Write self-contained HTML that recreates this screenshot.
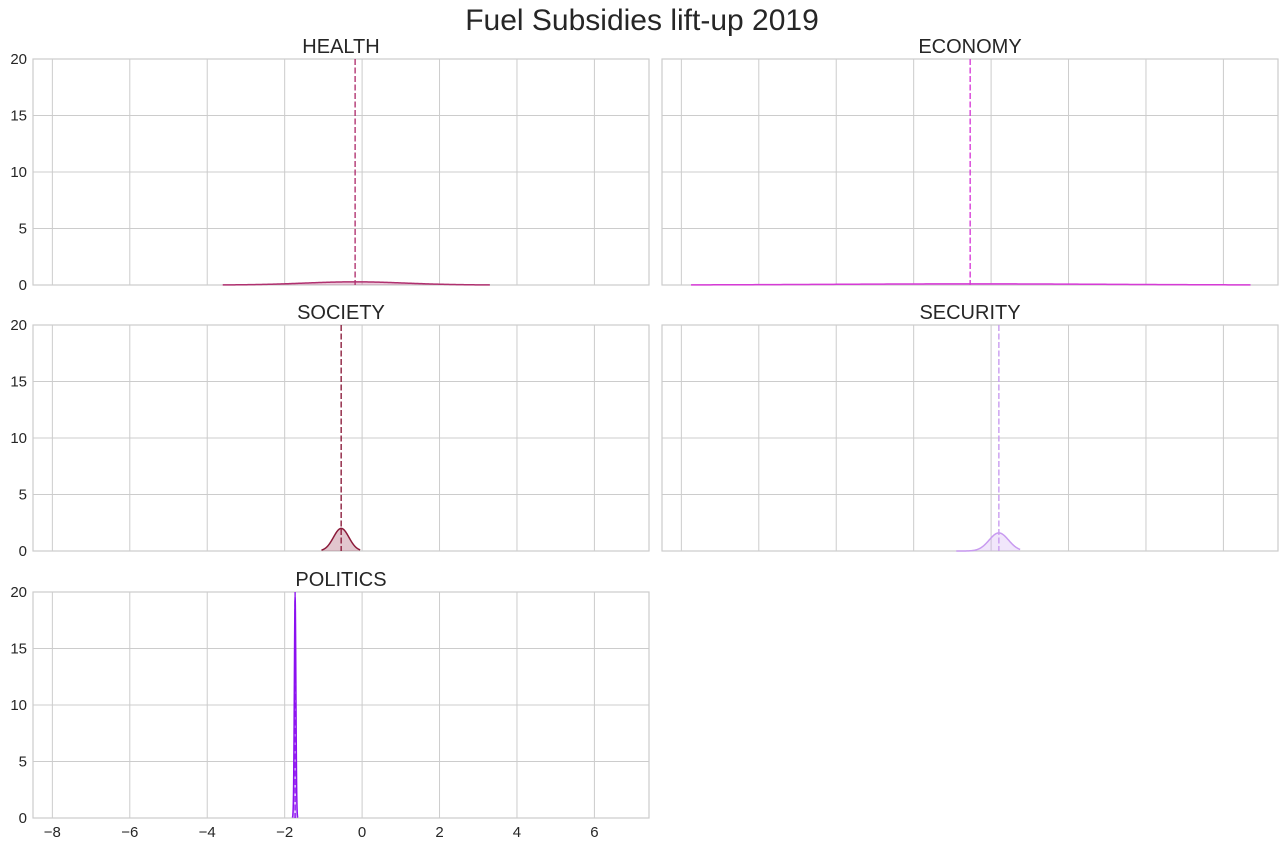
<!DOCTYPE html>
<html><head><meta charset="utf-8">
<style>
body{margin:0;background:#fff;font-family:"Liberation Sans",sans-serif;}
svg text{font-family:"Liberation Sans",sans-serif;fill:#262626;}
</style></head>
<body>
<svg id="chart" width="1284" height="848">
<text x="642" y="30" font-size="30" text-anchor="middle">Fuel Subsidies lift-up 2019</text>
</svg>
<script>
const panelNames = ["HEALTH","ECONOMY","SOCIETY","SECURITY","POLITICS"];
const means = [-0.18,-0.54,-0.54,0.2,-1.73];
const sds = [1.3,3.5,0.2,0.25,0.02];
const peaks = [0.28,0.1,2.0,1.6,19.5];
const lo = [-3.6,-7.75,-1.05,-0.9,-1.8];
const hi = [3.3,6.7,-0.05,0.75,-1.66];
const colors = ["#b0306f","#d63ad6","#8b1a3a","#c89af0","#8b10f0"];
const xTicks = [-8,-6,-4,-2,0,2,4,6];
const yTicks = [0,5,10,15,20];

const NS="http://www.w3.org/2000/svg";
const svg=document.getElementById('chart');
const panels=[[33,59],[662,59],[33,325],[662,325],[33,592]];
const W=616,H=226,xMin=-8.5,xMax=7.41,yMax=20;
function mk(t,a,p){const e=document.createElementNS(NS,t);for(const k in a)e.setAttribute(k,a[k]);(p||svg).appendChild(e);return e;}
panelNames.forEach((name,i)=>{
  const [px,py]=panels[i];
  const sx=v=>px+(v-xMin)/(xMax-xMin)*W;
  const sy=v=>py+H-v/yMax*H;
  const g=mk('g',{});
  
  
  xTicks.forEach(t=>{const l=mk('line',{x1:sx(t),x2:sx(t),y1:py,y2:py+H,stroke:'#cccccc','stroke-width':1},g);
    });
  yTicks.forEach(t=>{const l=mk('line',{x1:px,x2:px+W,y1:sy(t),y2:sy(t),stroke:'#cccccc','stroke-width':1},g);
    
    if(i%2===0){const tx=mk('text',{x:px-6,y:sy(t)+5,'font-size':15,'text-anchor':'end'},g);tx.textContent=t;
      }});
  const fr=mk('rect',{x:px,y:py,width:W,height:H,fill:'none',stroke:'#cccccc','stroke-width':1.2},g);
  
  const tt=mk('text',{x:px+W/2,y:py-6,'font-size':20,'text-anchor':'middle'},g);tt.textContent=name;
  
  // density
  let pts=[];const n=200;
  for(let k=0;k<=n;k++){const x=lo[i]+(hi[i]-lo[i])*k/n;const y=peaks[i]*Math.exp(-0.5*Math.pow((x-means[i])/sds[i],2));pts.push([sx(x),sy(y)]);}
  const d='M'+pts.map(p=>p[0].toFixed(2)+','+p[1].toFixed(2)).join('L');
  const fill=mk('path',{d:d+'L'+sx(hi[i])+','+sy(0)+'L'+sx(lo[i])+','+sy(0)+'Z',fill:colors[i],'fill-opacity':0.25,stroke:'none'},g);
  
  const ln=mk('path',{d:d,fill:'none',stroke:colors[i],'stroke-width':1.5},g);
  
  const ml=mk('line',{x1:sx(means[i]),x2:sx(means[i]),y1:py,y2:py+H,stroke:colors[i],'stroke-width':1.6,'stroke-dasharray':'6,2.5','stroke-opacity':0.85},g);
  
  if(i===4){xTicks.forEach(t=>{const tx=mk('text',{x:sx(t),y:py+H+19,'font-size':15,'text-anchor':'middle'},g);
    tx.textContent=(t<0?'\u2212'+(-t):t);
    });}
});
</script>
</body></html>
